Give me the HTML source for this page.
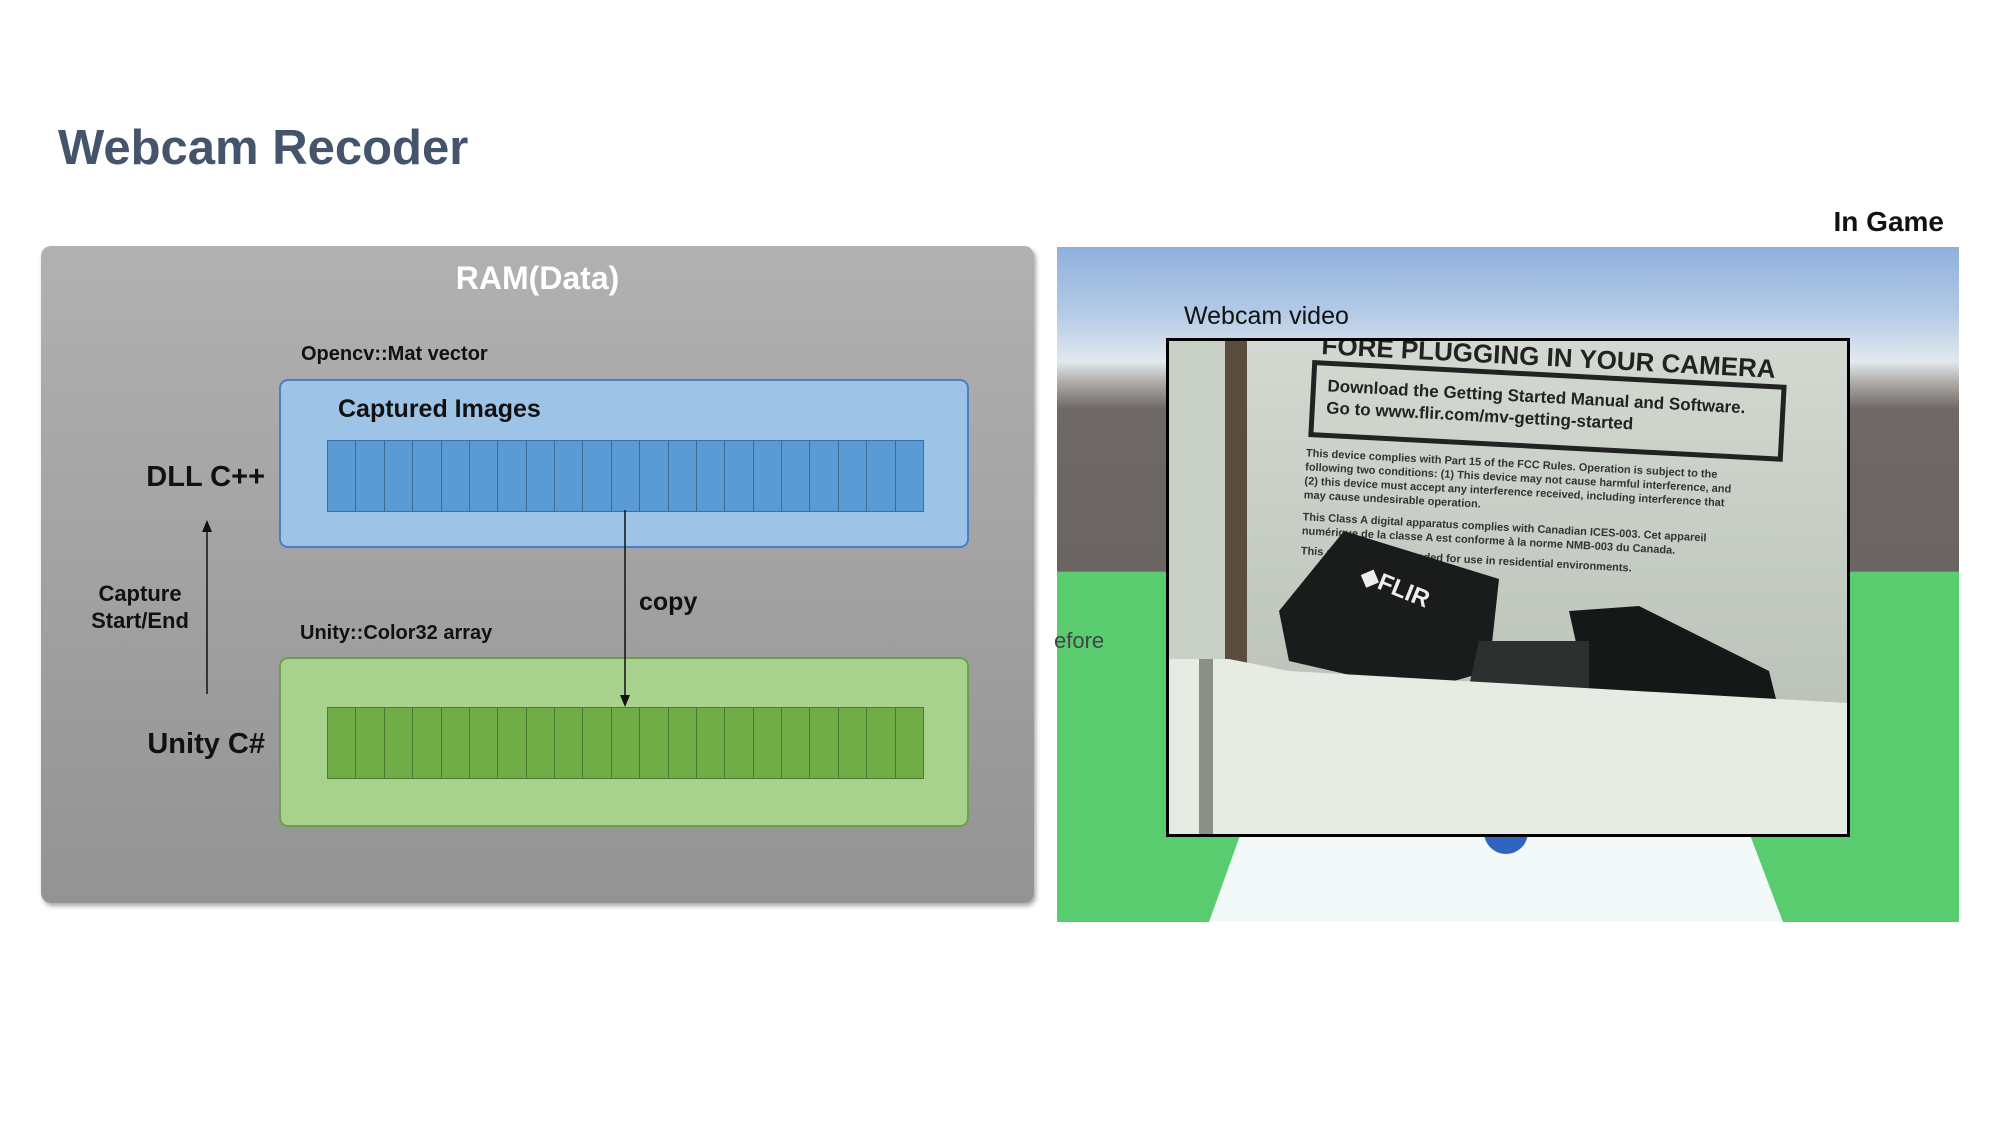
<!DOCTYPE html>
<html><head><meta charset="utf-8"><style>
body{margin:0;width:2000px;height:1148px;background:#fff;position:relative;overflow:hidden;font-family:"Liberation Sans","Noto Sans CJK KR",sans-serif}
.a{position:absolute;white-space:nowrap}
.cells{position:absolute;display:flex}
.cells div{flex:1;box-sizing:border-box}
.cells div+div{border-left:1.5px solid rgba(0,0,0,.3)}
</style></head><body>
<div class="a" style="left:58px;top:120px;font-size:49px;font-weight:bold;color:#44546a">Webcam Recoder</div>

<div class="a" style="left:41px;top:246px;width:993px;height:657px;border-radius:10px;background:linear-gradient(#b1b1b1,#939393);box-shadow:2px 3px 5px rgba(0,0,0,.35)"></div>
<div class="a" style="left:41px;top:260px;width:993px;text-align:center;font-size:32px;font-weight:bold;color:#fff">RAM(Data)</div>
<div class="a" style="left:301px;top:343px;font-size:20px;font-weight:bold;color:#111">Opencv::Mat vector</div>
<div class="a" style="left:279px;top:379px;width:690px;height:169px;box-sizing:border-box;border:2px solid #4a7ec8;border-radius:9px;background:#9dc3e6"></div>
<div class="a" style="left:338px;top:395px;font-size:25px;font-weight:bold;color:#111">Captured Images</div>
<div class="cells" style="left:327px;top:440px;width:595px;height:70px;border:1.5px solid #3b6fa8;background:#5b9bd5">
<div></div><div></div><div></div><div></div><div></div><div></div><div></div><div></div><div></div><div></div><div></div><div></div><div></div><div></div><div></div><div></div><div></div><div></div><div></div><div></div><div></div></div>
<div class="a" style="left:279px;top:657px;width:690px;height:170px;box-sizing:border-box;border:2px solid #6aa048;border-radius:9px;background:#a9d18e"></div>
<div class="cells" style="left:327px;top:707px;width:595px;height:70px;border:1.5px solid #4b7a30;background:#70ad47">
<div></div><div></div><div></div><div></div><div></div><div></div><div></div><div></div><div></div><div></div><div></div><div></div><div></div><div></div><div></div><div></div><div></div><div></div><div></div><div></div><div></div></div>
<div class="a" style="left:300px;top:622px;font-size:20px;font-weight:bold;color:#111">Unity::Color32 array</div>
<div class="a" style="left:100px;top:461px;width:165px;text-align:right;font-size:29px;font-weight:bold;color:#111">DLL C++</div>
<div class="a" style="left:100px;top:728px;width:165px;text-align:right;font-size:29px;font-weight:bold;color:#111">Unity C#</div>
<div class="a" style="left:60px;top:580px;width:160px;text-align:center;font-size:22px;font-weight:bold;color:#111;line-height:27px">Capture<br>Start/End</div>
<div class="a" style="left:639px;top:588px;font-size:25px;font-weight:bold;color:#111">copy</div>
<svg class="a" style="left:0;top:0" width="2000" height="1148">
<line x1="207" y1="694" x2="207" y2="530" stroke="#111" stroke-width="1.5"/>
<polygon points="207,520 202,532 212,532" fill="#111"/>
<line x1="625" y1="510" x2="625" y2="696" stroke="#111" stroke-width="1.5"/>
<polygon points="625,707 620,695 630,695" fill="#111"/>
</svg>

<div class="a" style="left:1700px;top:206px;width:244px;text-align:right;font-size:28px;font-weight:bold;color:#111">In Game</div>
<div class="a" style="left:1057px;top:247px;width:902px;height:675px;background:linear-gradient(#8fb0dc 0%,#b4cbe6 10%,#e2e9ee 17%,#b0aca8 20%,#6e6866 24%,#6a6462 48%,#58cc6e 48.2%,#58cc6e 100%)"></div>
<svg class="a" style="left:1057px;top:247px" width="902" height="675">
<polygon points="186,580 690,580 726,675 152,675" fill="#f3f8f8"/>
<circle cx="449" cy="585" r="22" fill="#2f65c0"/>
</svg>
<div class="a" style="left:1054px;top:628px;font-size:22px;color:#444">efore</div>
<div class="a" style="left:1184px;top:302px;font-size:25px;color:#111">Webcam video</div>
<div class="a" style="left:1166px;top:338px;width:684px;height:499px;box-sizing:border-box;border:3px solid #000;background:#b9c2b8;overflow:hidden">
<svg width="678" height="493" style="display:block">
<defs><linearGradient id="g" x1="0" y1="0" x2="0" y2="1"><stop offset="0" stop-color="#d3d9d0"/><stop offset="1" stop-color="#b3bbb2"/></linearGradient></defs>
<rect width="678" height="493" fill="url(#g)"/>
<rect x="0" y="0" width="62" height="493" fill="#c9d0c6"/>
<rect x="56" y="0" width="22" height="330" fill="#5a4d40"/>
<g transform="rotate(3 380 60)">
<text x="150" y="25" font-family="Liberation Sans" font-weight="bold" font-size="26" fill="#222">FORE PLUGGING IN YOUR CAMERA</text>
<rect x="144" y="34" width="470" height="72" fill="none" stroke="#222" stroke-width="5"/>
<text x="158" y="62" font-family="Liberation Sans" font-weight="bold" font-size="17" fill="#222">Download the Getting Started Manual and Software.</text>
<text x="158" y="84" font-family="Liberation Sans" font-weight="bold" font-size="17" fill="#222">Go to www.flir.com/mv-getting-started</text>
<text x="140" y="128" font-family="Liberation Sans" font-weight="bold" font-size="11" fill="#333">This device complies with Part 15 of the FCC Rules. Operation is subject to the</text>
<text x="140" y="142" font-family="Liberation Sans" font-weight="bold" font-size="11" fill="#333">following two conditions: (1) This device may not cause harmful interference, and</text>
<text x="140" y="156" font-family="Liberation Sans" font-weight="bold" font-size="11" fill="#333">(2) this device must accept any interference received, including interference that</text>
<text x="140" y="170" font-family="Liberation Sans" font-weight="bold" font-size="11" fill="#333">may cause undesirable operation.</text>
<text x="140" y="192" font-family="Liberation Sans" font-weight="bold" font-size="11" fill="#333">This Class A digital apparatus complies with Canadian ICES-003. Cet appareil</text>
<text x="140" y="206" font-family="Liberation Sans" font-weight="bold" font-size="11" fill="#333">numérique de la classe A est conforme à la norme NMB-003 du Canada.</text>
<text x="140" y="226" font-family="Liberation Sans" font-weight="bold" font-size="11" fill="#333">This equipment is intended for use in residential environments.</text>
</g>
<polygon points="175,190 330,238 320,330 250,350 120,320 110,270" fill="#1a1c1c"/>
<polygon points="400,270 470,265 600,330 610,370 420,360" fill="#161818"/>
<polygon points="310,300 420,300 420,350 300,345" fill="#2d302f"/>
<text x="190" y="240" font-family="Liberation Sans" font-weight="bold" font-size="24" fill="#eee" transform="rotate(22 190 240)">◆FLIR</text>
<polygon points="0,318 60,318 120,330 678,362 678,493 0,493" fill="#e6ebe4"/>
<rect x="30" y="318" width="14" height="175" fill="#8c8f88"/>
</svg></div>
</body></html>
